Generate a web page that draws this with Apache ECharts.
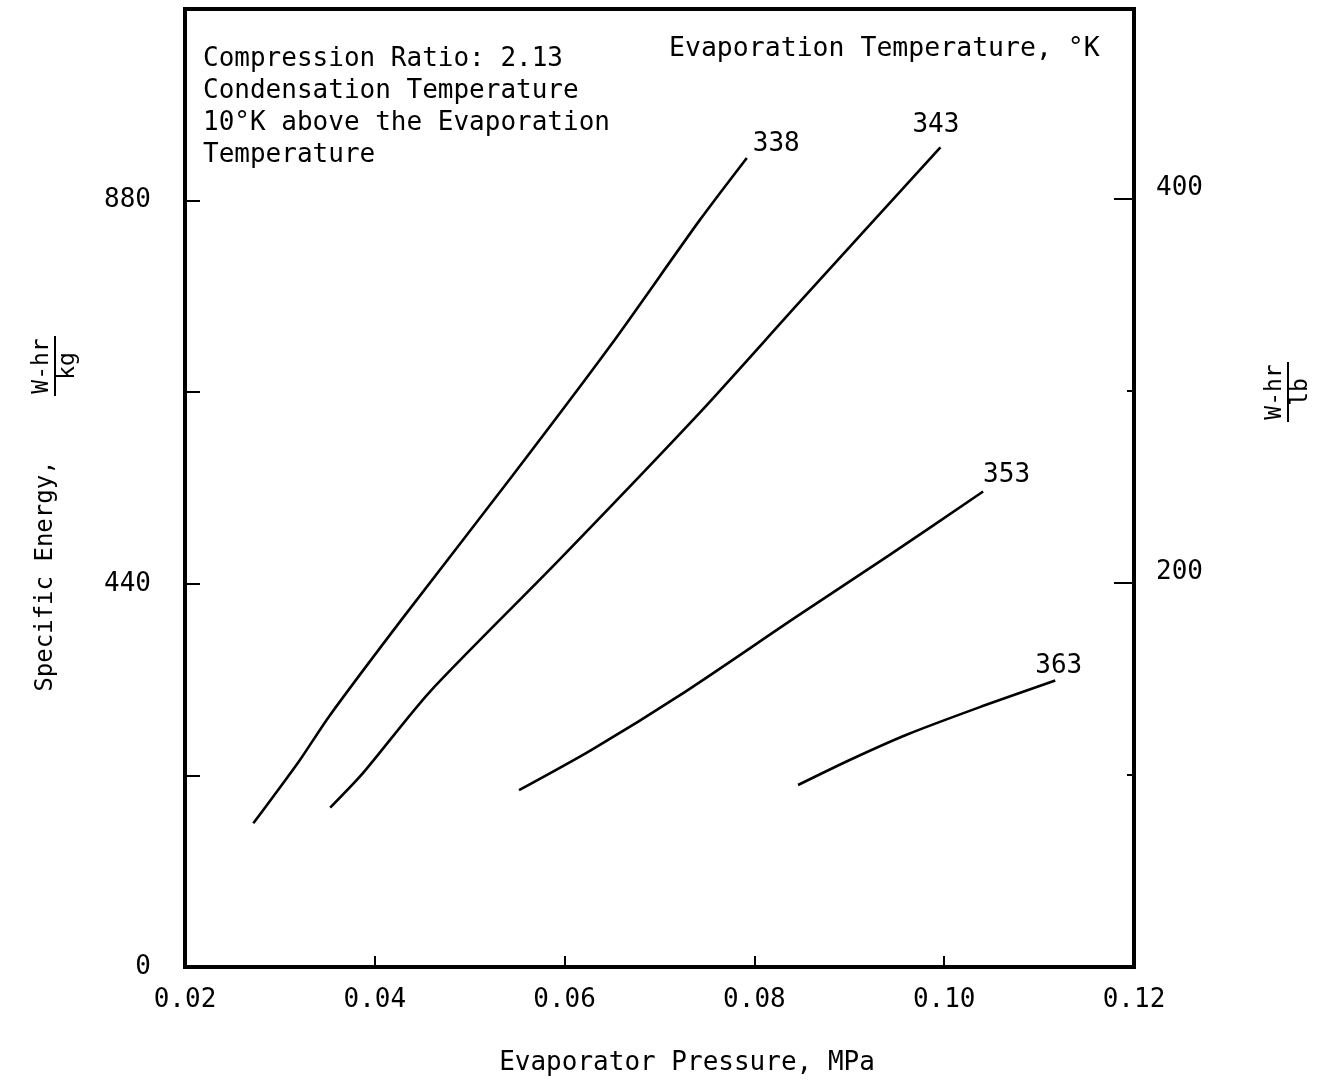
<!DOCTYPE html>
<html>
<head>
<meta charset="utf-8">
<title>Specific Energy vs Evaporator Pressure</title>
<script src="https://cdn.jsdelivr.net/npm/echarts@6/dist/echarts.min.js"></script>
<style>
  html, body { margin: 0; padding: 0; background: #fff; }
  #main { width: 1330px; height: 1084px; }
</style>
</head>
<body>
<div id="main"></div>
<script>
// evaporation temperatures (K) - one curve each
var temps = ['338', '343', '353', '363'];

// evaporator pressure, MPa
var p338 = [0.0272, 0.0320, 0.0352, 0.0429, 0.0545, 0.0648, 0.0742, 0.0792];
var p343 = [0.0353, 0.0387, 0.0458, 0.0593, 0.0742, 0.0848, 0.0996];
var p353 = [0.0552, 0.0628, 0.0727, 0.0844, 0.0941, 0.1041];
var p363 = [0.0846, 0.0901, 0.0961, 0.1039, 0.1117];

// specific energy, W-hr/kg
var e338 = [165, 236, 288, 400, 564, 713, 857, 929];
var e343 = [183, 222, 316, 466, 636, 764, 941];
var e353 = [203, 249, 316, 402, 472, 546];
var e363 = [209, 238, 267, 299, 329];

// tick labels
var xTicks = [0.02, 0.04, 0.06, 0.08, 0.10, 0.12];
var leftLabels = [0, 440, 880];
var rightLabels = [200, 400];

var KG_PER_LB = 2.2046;
var yMax = 1100;

var font = '"DejaVu Sans Mono", monospace';

function pairs(xs, ys) {
	var out = [];
	for (var i = 0; i < xs.length; i++) {
		out.push([xs[i], ys[i]]);
	}
	return out;
}

// label offsets for the temperature tags at the line ends
var tagOffsets = [[-2, -14], [-36, -22], [-8, -16], [-28, -14]];

var curves = [p338, p343, p353, p363];
var energies = [e338, e343, e353, e363];

var series = [];
for (var i = 0; i < temps.length; i++) {
	series.push({
		name: temps[i],
		type: 'line',
		xAxisIndex: 0,
		yAxisIndex: 0,
		showSymbol: false,
		symbol: 'none',
		smooth: 0.25,
		lineStyle: { color: '#000', width: 2.6 },
		endLabel: {
			show: true,
			formatter: '{a}',
			color: '#000',
			fontFamily: font,
			fontSize: 26,
			offset: tagOffsets[i]
		},
		data: pairs(curves[i], energies[i])
	});
}

// rotated fraction like W-hr over kg
function fraction(x, y, top, bottom) {
	return {
		type: 'group',
		x: x,
		y: y,
		rotation: Math.PI / 2,
		children: [
			{ type: 'text', x: 0, y: -13, style: { text: top, font: '23px ' + font, fill: '#000', align: 'center', verticalAlign: 'middle' } },
			{ type: 'line', shape: { x1: -30, y1: 0, x2: 30, y2: 0 }, style: { stroke: '#000', lineWidth: 2 } },
			{ type: 'text', x: 0, y: 13, style: { text: bottom, font: '23px ' + font, fill: '#000', align: 'center', verticalAlign: 'middle' } }
		]
	};
}

var myChart = echarts.init(document.getElementById('main'));

var option = {
	backgroundColor: '#fff',
	animation: false,
	grid: {
		left: 185,
		right: 196,
		top: 9,
		bottom: 117,
		show: true,
		borderColor: '#000',
		borderWidth: 4
	},
	xAxis: {
		type: 'value',
		min: xTicks[0],
		max: xTicks[xTicks.length - 1],
		interval: 0.02,
		axisLine: { show: true, lineStyle: { color: '#000', width: 4 } },
		axisTick: { show: true, inside: true, length: 11, lineStyle: { color: '#000', width: 2 } },
		splitLine: { show: false },
		axisLabel: {
			margin: 20,
			color: '#000',
			fontFamily: font,
			fontSize: 26,
			formatter: function (v) { return v.toFixed(2); }
		}
	},
	yAxis: [{
		type: 'value',
		position: 'left',
		min: 0,
		max: yMax,
		interval: 220,
		axisLine: { show: true, lineStyle: { color: '#000', width: 4 } },
		axisTick: { show: true, inside: true, length: 15, lineStyle: { color: '#000', width: 2 } },
		splitLine: { show: false },
		axisLabel: {
			margin: 34,
			color: '#000',
			fontFamily: font,
			fontSize: 26,
			formatter: function (v) { return leftLabels.indexOf(Math.round(v)) >= 0 ? String(Math.round(v)) : ''; }
		}
	}, {
		// W-hr/lb scale, major ticks
		type: 'value',
		position: 'right',
		min: 0,
		max: yMax / KG_PER_LB,
		interval: 200,
		axisLine: { show: true, lineStyle: { color: '#000', width: 4 } },
		axisTick: { show: true, inside: true, length: 20, lineStyle: { color: '#000', width: 2 } },
		splitLine: { show: false },
		axisLabel: {
			margin: 22,
			verticalAlign: 'bottom',
			lineHeight: 22,
			color: '#000',
			fontFamily: font,
			fontSize: 26,
			formatter: function (v) { return rightLabels.indexOf(Math.round(v)) >= 0 ? String(Math.round(v)) : ''; }
		}
	}, {
		// W-hr/lb scale, short ticks every 100
		type: 'value',
		position: 'right',
		min: 0,
		max: yMax / KG_PER_LB,
		interval: 100,
		axisLine: { show: false },
		axisTick: { show: true, inside: true, length: 7, lineStyle: { color: '#000', width: 2 } },
		splitLine: { show: false },
		axisLabel: { show: false }
	}],
	graphic: [
		{
			type: 'text',
			left: 203,
			top: 43,
			style: {
				text: 'Compression Ratio: 2.13\nCondensation Temperature\n10°K above the Evaporation\nTemperature',
				font: '26px ' + font,
				lineHeight: 32,
				fill: '#000'
			}
		},
		{
			type: 'text',
			left: 669,
			top: 36,
			style: { text: 'Evaporation Temperature, °K', font: '26.5px ' + font, fill: '#000' }
		},
		{
			type: 'text',
			x: 687,
			y: 1063,
			style: { text: 'Evaporator Pressure, MPa', font: '26px ' + font, fill: '#000', align: 'center', verticalAlign: 'middle' }
		},
		{
			type: 'text',
			x: 46,
			y: 576,
			rotation: Math.PI / 2,
			style: { text: 'Specific Energy,', font: '24px ' + font, fill: '#000', align: 'center', verticalAlign: 'middle' }
		},
		fraction(55, 366, 'W-hr', 'kg'),
		fraction(1288, 392, 'W-hr', 'lb')
	],
	series: series
};

myChart.setOption(option);
</script>
</body>
</html>
